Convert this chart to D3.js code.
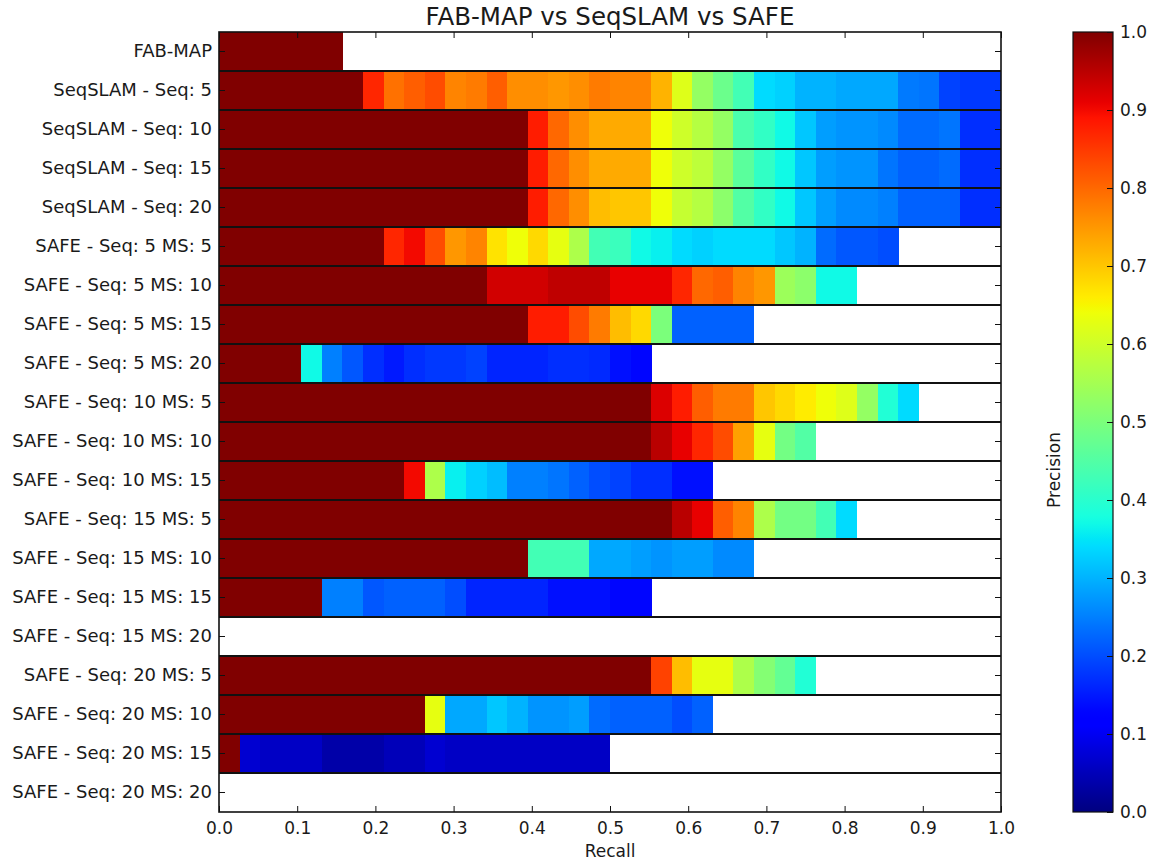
<!DOCTYPE html>
<html>
<head>
<meta charset="utf-8">
<script src="https://cdn.jsdelivr.net/npm/d3@7"></script>
<style>
  html, body { margin: 0; padding: 0; background: #fff; }
  svg { display: block; }
  text { font-family: "DejaVu Sans", sans-serif; fill: #1a1a1a; }
</style>
</head>
<body>
<svg id="chart" width="1155" height="863"></svg>
<script>
// Row labels, top to bottom
const rowLabels = [
  "FAB-MAP",
  "SeqSLAM - Seq: 5", "SeqSLAM - Seq: 10", "SeqSLAM - Seq: 15", "SeqSLAM - Seq: 20",
  "SAFE - Seq: 5 MS: 5", "SAFE - Seq: 5 MS: 10", "SAFE - Seq: 5 MS: 15", "SAFE - Seq: 5 MS: 20",
  "SAFE - Seq: 10 MS: 5", "SAFE - Seq: 10 MS: 10", "SAFE - Seq: 10 MS: 15",
  "SAFE - Seq: 15 MS: 5", "SAFE - Seq: 15 MS: 10", "SAFE - Seq: 15 MS: 15", "SAFE - Seq: 15 MS: 20",
  "SAFE - Seq: 20 MS: 5", "SAFE - Seq: 20 MS: 10", "SAFE - Seq: 20 MS: 15", "SAFE - Seq: 20 MS: 20"
];

// Recall is sampled in equal steps of 1/38; each array holds the precision
// reached at successive recall steps (the row stops where recall stops).
const recallSteps = 38;

const fabMap = [1, 1, 1, 1, 1, 1];
const seqSlam5 = [1, 1, 1, 1, 1, 1, 1,
  0.87, 0.79, 0.81, 0.83, 0.77, 0.78, 0.81, 0.76, 0.76, 0.75, 0.76, 0.78, 0.77, 0.77, 0.72,
  0.62, 0.53, 0.48, 0.43, 0.34, 0.33, 0.30, 0.30, 0.29, 0.29, 0.29, 0.245, 0.24, 0.19, 0.18, 0.18];
const seqSlam10 = [1, 1, 1, 1, 1, 1, 1, 1, 1, 1, 1, 1, 1, 1, 1,
  0.88, 0.80, 0.76, 0.73, 0.73, 0.73, 0.64, 0.60, 0.57, 0.53, 0.44, 0.41, 0.37, 0.32, 0.28,
  0.27, 0.27, 0.26, 0.23, 0.23, 0.24, 0.17, 0.17];
const seqSlam15 = [1, 1, 1, 1, 1, 1, 1, 1, 1, 1, 1, 1, 1, 1, 1,
  0.88, 0.80, 0.76, 0.73, 0.73, 0.73, 0.64, 0.60, 0.58, 0.53, 0.46, 0.41, 0.37, 0.32, 0.28,
  0.27, 0.27, 0.24, 0.22, 0.22, 0.23, 0.17, 0.17];
const seqSlam20 = [1, 1, 1, 1, 1, 1, 1, 1, 1, 1, 1, 1, 1, 1, 1,
  0.88, 0.80, 0.76, 0.71, 0.70, 0.70, 0.64, 0.59, 0.57, 0.52, 0.45, 0.41, 0.37, 0.32, 0.28,
  0.26, 0.26, 0.25, 0.22, 0.22, 0.22, 0.17, 0.17];
const safe5ms5 = [1, 1, 1, 1, 1, 1, 1, 1,
  0.87, 0.90, 0.83, 0.75, 0.77, 0.67, 0.64, 0.68, 0.63, 0.56, 0.43, 0.42, 0.37, 0.36, 0.34,
  0.33, 0.34, 0.34, 0.34, 0.32, 0.30, 0.23, 0.21, 0.21, 0.20];
const safe5ms10 = [1, 1, 1, 1, 1, 1, 1, 1, 1, 1, 1, 1, 1,
  0.93, 0.93, 0.93, 0.945, 0.945, 0.945, 0.91, 0.91, 0.91, 0.87, 0.80, 0.81, 0.77, 0.75,
  0.54, 0.52, 0.37, 0.37];
const safe5ms15 = [1, 1, 1, 1, 1, 1, 1, 1, 1, 1, 1, 1, 1, 1, 1,
  0.88, 0.88, 0.83, 0.78, 0.71, 0.68, 0.50, 0.22, 0.22, 0.22, 0.22];
const safe5ms20 = [1, 1, 1, 1,
  0.37, 0.25, 0.21, 0.17, 0.15, 0.17, 0.18, 0.18, 0.19, 0.16, 0.16, 0.16, 0.17, 0.17, 0.165,
  0.14, 0.13];
const safe10ms5 = [1, 1, 1, 1, 1, 1, 1, 1, 1, 1, 1, 1, 1, 1, 1, 1, 1, 1, 1, 1, 1,
  0.92, 0.88, 0.81, 0.78, 0.78, 0.70, 0.68, 0.66, 0.64, 0.62, 0.53, 0.39, 0.34];
const safe10ms10 = [1, 1, 1, 1, 1, 1, 1, 1, 1, 1, 1, 1, 1, 1, 1, 1, 1, 1, 1, 1, 1,
  0.95, 0.91, 0.87, 0.83, 0.74, 0.63, 0.49, 0.45];
const safe10ms15 = [1, 1, 1, 1, 1, 1, 1, 1, 1,
  0.90, 0.56, 0.36, 0.33, 0.31, 0.25, 0.25, 0.24, 0.22, 0.20, 0.19, 0.17, 0.17, 0.14, 0.14];
const safe15ms5 = [1, 1, 1, 1, 1, 1, 1, 1, 1, 1, 1, 1, 1, 1, 1, 1, 1, 1, 1, 1, 1, 1,
  0.95, 0.91, 0.81, 0.77, 0.56, 0.49, 0.49, 0.43, 0.34];
const safe15ms10 = [1, 1, 1, 1, 1, 1, 1, 1, 1, 1, 1, 1, 1, 1, 1,
  0.43, 0.43, 0.43, 0.29, 0.29, 0.28, 0.27, 0.28, 0.28, 0.26, 0.26];
const safe15ms15 = [1, 1, 1, 1, 1,
  0.25, 0.25, 0.21, 0.22, 0.22, 0.22, 0.20, 0.16, 0.16, 0.16, 0.16, 0.14, 0.14, 0.14, 0.13, 0.13];
const safe15ms20 = [];
const safe20ms5 = [1, 1, 1, 1, 1, 1, 1, 1, 1, 1, 1, 1, 1, 1, 1, 1, 1, 1, 1, 1, 1,
  0.84, 0.71, 0.63, 0.63, 0.56, 0.51, 0.47, 0.39];
const safe20ms10 = [1, 1, 1, 1, 1, 1, 1, 1, 1, 1,
  0.63, 0.29, 0.29, 0.32, 0.30, 0.27, 0.27, 0.28, 0.23, 0.22, 0.22, 0.22, 0.20, 0.22];
const safe20ms15 = [1,
  0.07, 0.06, 0.06, 0.06, 0.035, 0.035, 0.035, 0.05, 0.05, 0.07, 0.06, 0.06, 0.06, 0.06,
  0.06, 0.06, 0.06, 0.06];
const safe20ms20 = [];

const rowValues = [
  fabMap, seqSlam5, seqSlam10, seqSlam15, seqSlam20,
  safe5ms5, safe5ms10, safe5ms15, safe5ms20,
  safe10ms5, safe10ms10, safe10ms15,
  safe15ms5, safe15ms10, safe15ms15, safe15ms20,
  safe20ms5, safe20ms10, safe20ms15, safe20ms20
];

const xTicks = [0, 0.1, 0.2, 0.3, 0.4, 0.5, 0.6, 0.7, 0.8, 0.9, 1.0];
const colorTicks = [0, 0.1, 0.2, 0.3, 0.4, 0.5, 0.6, 0.7, 0.8, 0.9, 1.0];

// ---- jet colormap built from piecewise-linear channel scales ----
const jetR = d3.scaleLinear().domain([0, 0.35, 0.66, 0.89, 1]).range([0, 0, 1, 1, 0.5]).clamp(true);
const jetG = d3.scaleLinear().domain([0, 0.125, 0.375, 0.64, 0.91, 1]).range([0, 0, 1, 1, 0, 0]).clamp(true);
const jetB = d3.scaleLinear().domain([0, 0.11, 0.34, 0.65, 1]).range([0.5, 1, 1, 0, 0]).clamp(true);
const jet = v => d3.rgb(255 * jetR(v), 255 * jetG(v), 255 * jetB(v)).formatHex();

// ---- layout ----
const plot = { left: 219, right: 1001, top: 32, bottom: 812 };
const cbar = { left: 1073, right: 1113, top: 32, bottom: 812 };

const svg = d3.select("#chart");

const x = d3.scaleLinear().domain([0, 1]).range([plot.left, plot.right]);
const y = d3.scaleBand().domain(rowLabels).range([plot.top, plot.bottom]).padding(0);

// ---- precision cells ----
const cells = [];
rowValues.forEach((vals, r) => {
  vals.forEach((p, k) => cells.push({ row: rowLabels[r], k, p }));
});

svg.append("g").attr("class", "cells")
  .selectAll("rect").data(cells).join("rect")
  .attr("x", d => x(d.k / recallSteps))
  .attr("width", d => x((d.k + 1) / recallSteps) - x(d.k / recallSteps) + 0.4)
  .attr("y", d => y(d.row))
  .attr("height", y.bandwidth())
  .attr("fill", d => jet(d.p))
  .attr("shape-rendering", "crispEdges");

// row separators
svg.append("g").attr("class", "separators")
  .selectAll("line").data(rowLabels.slice(1)).join("line")
  .attr("x1", plot.left).attr("x2", plot.right)
  .attr("y1", d => y(d)).attr("y2", d => y(d))
  .attr("stroke", "#111").attr("stroke-width", 2);

// ---- axes (ticks point inward, as on a boxed plot) ----
const tickLen = 6;
const fontSize = 17;
const rowFontSize = 18;

// bottom axis
const xAxis = d3.axisBottom(x).tickValues(xTicks).tickFormat(d3.format(".1f"))
  .tickSizeInner(-tickLen).tickSizeOuter(0).tickPadding(10);
const gx = svg.append("g").attr("transform", `translate(0,${plot.bottom})`).call(xAxis);
gx.select(".domain").remove();
gx.selectAll("line").attr("stroke", "#111");
gx.selectAll("text").attr("font-size", fontSize).attr("font-family", "DejaVu Sans").attr("fill", "#1a1a1a");

// top axis ticks
const gxt = svg.append("g").attr("transform", `translate(0,${plot.top})`)
  .call(d3.axisTop(x).tickValues(xTicks).tickSizeInner(-tickLen).tickSizeOuter(0).tickFormat(""));
gxt.select(".domain").remove();
gxt.selectAll("line").attr("stroke", "#111");

// left axis with row labels
const yAxis = d3.axisLeft(y).tickSizeInner(-tickLen).tickSizeOuter(0).tickPadding(7);
const gy = svg.append("g").attr("transform", `translate(${plot.left},0)`).call(yAxis);
gy.select(".domain").remove();
gy.selectAll("line").attr("stroke", "#111");
gy.selectAll("text").attr("font-size", rowFontSize).attr("font-family", "DejaVu Sans").attr("fill", "#1a1a1a");

// right axis ticks
const gyr = svg.append("g").attr("transform", `translate(${plot.right},0)`)
  .call(d3.axisRight(y).tickSizeInner(-tickLen).tickSizeOuter(0).tickFormat(""));
gyr.select(".domain").remove();
gyr.selectAll("line").attr("stroke", "#111");

// plot frame
svg.append("rect")
  .attr("x", plot.left).attr("y", plot.top)
  .attr("width", plot.right - plot.left).attr("height", plot.bottom - plot.top)
  .attr("fill", "none").attr("stroke", "#111").attr("stroke-width", 1.6);

// title and axis label
svg.append("text")
  .attr("x", (plot.left + plot.right) / 2).attr("y", 25)
  .attr("text-anchor", "middle").attr("font-size", 24.5)
  .text("FAB-MAP vs SeqSLAM vs SAFE");

svg.append("text")
  .attr("x", (plot.left + plot.right) / 2).attr("y", 857)
  .attr("text-anchor", "middle").attr("font-size", fontSize)
  .text("Recall");

// ---- colorbar ----
const c = d3.scaleLinear().domain([0, 1]).range([cbar.bottom, cbar.top]);
const grad = svg.append("defs").append("linearGradient")
  .attr("id", "jetGrad").attr("x1", 0).attr("y1", 1).attr("x2", 0).attr("y2", 0);
grad.selectAll("stop").data(d3.range(0, 1.0001, 0.01)).join("stop")
  .attr("offset", d => d)
  .attr("stop-color", d => jet(d));

svg.append("rect")
  .attr("x", cbar.left).attr("y", cbar.top)
  .attr("width", cbar.right - cbar.left).attr("height", cbar.bottom - cbar.top)
  .attr("fill", "url(#jetGrad)")
  .attr("stroke", "#111").attr("stroke-width", 1.2);

const gc = svg.append("g").attr("transform", `translate(${cbar.right},0)`)
  .call(d3.axisRight(c).tickValues(colorTicks).tickFormat(d3.format(".1f"))
    .tickSizeInner(-tickLen).tickSizeOuter(0).tickPadding(7));
gc.select(".domain").remove();
gc.selectAll("line").attr("stroke", "#111");
gc.selectAll("text").attr("font-size", fontSize).attr("font-family", "DejaVu Sans").attr("fill", "#1a1a1a");

svg.append("text")
  .attr("transform", `translate(1060,${(cbar.top + cbar.bottom) / 2 + 48}) rotate(-90)`)
  .attr("text-anchor", "middle").attr("font-size", fontSize)
  .text("Precision");
</script>
</body>
</html>
